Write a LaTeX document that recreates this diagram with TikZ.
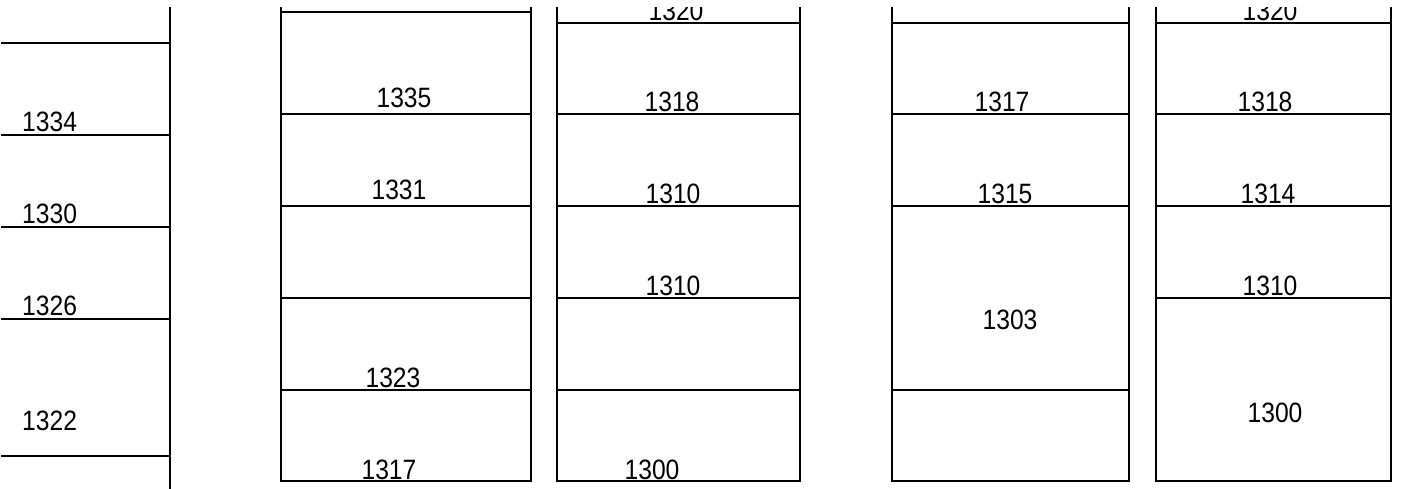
\documentclass[tikz,border=0pt]{standalone}
\usepackage{fontspec}
\newfontfamily\labfont[FakeStretch=0.88]{Liberation Sans}
\begin{document}
\begin{tikzpicture}[x=1pt,y=-1pt,
  ln/.style={line width=2pt, line cap=rect},
  lab/.style={font=\labfont\fontsize{28}{30}\selectfont, inner sep=0pt, anchor=base},
  labw/.style={lab, anchor=base west}]
\useasboundingbox (0,0) rectangle (1413,488);
\begin{scope}
\clip (0,7) rectangle (1413,488);
% left scale
\draw[ln] (170,8) -- (170,488);
\foreach \y in {43,135,227,319,456} \draw[ln] (2,\y) -- (170,\y);
\node[labw] (s1334) at (22,131) {1334};
\node[labw] (s1330) at (22,223) {1330};
\node[labw] (s1326) at (22,315) {1326};
\node[labw] (s1322) at (22,430) {1322};
% column 1
\draw[ln] (281,8) -- (281,481) -- (531,481) -- (531,8);
\foreach \y in {12,114,206,298,390} \draw[ln] (281,\y) -- (531,\y);
\node[lab] (a1335) at (404,107) {1335};
\node[lab] (a1331) at (399,199) {1331};
\node[lab] (a1323) at (393,387) {1323};
\node[lab] (a1317) at (389,479) {1317};
% column 2
\draw[ln] (557,8) -- (557,481) -- (800,481) -- (800,8);
\foreach \y in {23,114,206,298,390} \draw[ln] (557,\y) -- (800,\y);
\node[lab] (b1320) at (676,20) {1320};
\node[lab] (b1318) at (672,111) {1318};
\node[lab] (b1310a) at (673,203) {1310};
\node[lab] (b1310b) at (673,295) {1310};
\node[lab] (b1300) at (652,479) {1300};
% column 3
\draw[ln] (892,8) -- (892,481) -- (1129,481) -- (1129,8);
\foreach \y in {23,114,206,390} \draw[ln] (892,\y) -- (1129,\y);
\node[lab] (c1317) at (1002,111) {1317};
\node[lab] (c1315) at (1005,203) {1315};
\node[lab] (c1303) at (1010,329) {1303};
% column 4
\draw[ln] (1156,8) -- (1156,481) -- (1391,481) -- (1391,8);
\foreach \y in {23,114,206,298} \draw[ln] (1156,\y) -- (1391,\y);
\node[lab] (d1320) at (1270,20) {1320};
\node[lab] (d1318) at (1265,111) {1318};
\node[lab] (d1314) at (1268,203) {1314};
\node[lab] (d1310) at (1270,295) {1310};
\node[lab] (d1300) at (1275,422) {1300};
\end{scope}
\end{tikzpicture}
\end{document}
